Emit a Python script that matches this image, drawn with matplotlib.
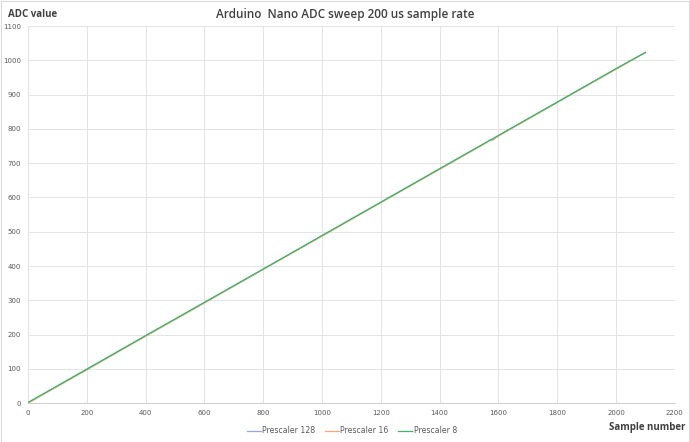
import matplotlib
matplotlib.use("Agg")
import matplotlib.pyplot as plt
from matplotlib.patches import Rectangle

# Values (sample number, ADC value)
samples_128 = [0, 200, 400, 600, 800, 1000, 1200, 1400, 1560, 1570, 1580, 1600, 1800, 2000, 2100]
values_128 = [0, 99, 196, 293, 391, 488, 586, 683, 761, 766, 767, 780, 878, 975, 1023]
samples_16 = [0, 200, 400, 600, 800, 1000, 1200, 1400, 1560, 1570, 1580, 1600, 1800, 2000, 2100]
values_16 = [0, 97, 195, 292, 390, 487, 585, 682, 760, 767, 768, 779, 877, 974, 1023]
samples_8 = [0, 200, 400, 600, 800, 1000, 1200, 1400, 1600, 1800, 2000, 2100]
values_8 = [2, 99, 197, 294, 391, 489, 586, 684, 781, 878, 976, 1023]

series_names = ["Prescaler 128", "Prescaler 16", "Prescaler 8"]
series_colors = ["#8FAADC", "#F4A87C", "#3DB56A"]

x_ticks = list(range(0, 2201, 200))
y_ticks = list(range(0, 1101, 100))

fig = plt.figure(figsize=(6.9, 4.42), dpi=100)
ax = fig.add_axes([0.0406, 0.088, 0.9374, 0.853])

for xs, ys, name, c in zip([samples_128, samples_16, samples_8],
                           [values_128, values_16, values_8],
                           series_names, series_colors):
    ax.plot(xs, ys, color=c, lw=0.9, label=name)

ax.set_xlim(0, 2200)
ax.set_ylim(0, 1100)
ax.set_xticks(x_ticks)
ax.set_yticks(y_ticks)
ax.tick_params(labelsize=5, colors="#595959", length=0, pad=5)
ax.grid(True, color="#E3E3E3", lw=0.7)
ax.set_axisbelow(True)
for s in ["top", "right", "left"]:
    ax.spines[s].set_visible(False)
ax.spines["bottom"].set_color("#D0D0D0")

fig.text(0.5, 0.968, "Arduino  Nano ADC sweep 200 us sample rate", ha="center", va="center",
         fontsize=8.5, color="#404040", weight="semibold", family="Open Sans")
fig.text(0.012, 0.968, "ADC value", ha="left", va="center", fontsize=7,
         color="#404040", weight="bold", family="Open Sans")
fig.text(0.993, 0.033, "Sample number", ha="right", va="center", fontsize=7,
         color="#404040", weight="bold", family="Open Sans")

leg = fig.legend(loc="center", bbox_to_anchor=(0.51, 0.025), ncol=3, frameon=False,
                 fontsize=5.6, handlelength=1.8, columnspacing=1.2, handletextpad=0.2)
for t in leg.get_texts():
    t.set_color("#595959")

fig.patches.append(Rectangle((0.001, 0.001), 0.997, 0.996, transform=fig.transFigure,
                             fill=False, edgecolor="#D9D9D9", lw=0.8))

fig.savefig("out.png", dpi=100, facecolor="white")
